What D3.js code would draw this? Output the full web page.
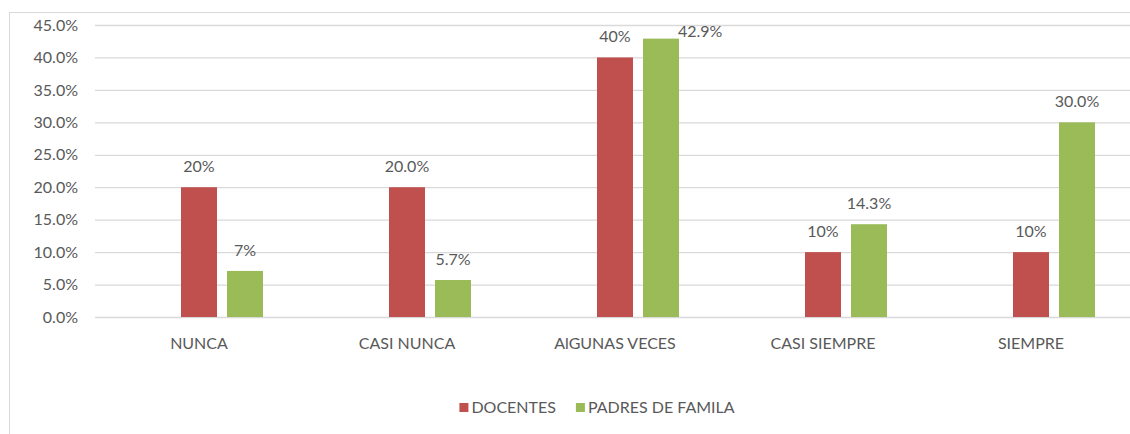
<!DOCTYPE html>
<html>
<head>
<meta charset="utf-8">
<script src="https://cdn.jsdelivr.net/npm/d3@7"></script>
<style>
  html, body { margin: 0; padding: 0; background: #fff; }
  svg { display: block; }
  text { font-family: Lato, "Open Sans", "Liberation Sans", sans-serif; fill: #595959; }
</style>
</head>
<body>
<svg id="chart" width="1130" height="434"></svg>
<script>
const categories = ["NUNCA", "CASI NUNCA", "AlGUNAS VECES", "CASI SIEMPRE", "SIEMPRE"];
const seriesNames = ["DOCENTES", "PADRES DE FAMILA"];
const docentes = [0.20, 0.20, 0.40, 0.10, 0.10];
const padres = [0.071, 0.057, 0.429, 0.143, 0.30];
const docentesLabels = ["20%", "20.0%", "40%", "10%", "10%"];
const padresLabels = ["7%", "5.7%", "42.9%", "14.3%", "30.0%"];
const yTicks = [0, 0.05, 0.10, 0.15, 0.20, 0.25, 0.30, 0.35, 0.40, 0.45];
const colors = ["#C0504D", "#9BBB59"];

const svg = d3.select("#chart");
const W = 1130, H = 434;
const plot = { left: 95, right: 1135, top: 25, bottom: 317 };
const FS = "16px";

// chart frame
svg.append("rect").attr("x", 9.5).attr("y", 12.5).attr("width", 1200).attr("height", 500)
  .attr("fill", "none").attr("stroke", "#d9d9d9").attr("stroke-width", 1);

const x0 = d3.scaleBand().domain(categories).range([plot.left, plot.right]).padding(0);
// three slots per category (first slot is empty in the original chart layout)
const x1 = d3.scaleBand().domain(["_"].concat(seriesNames)).range([-64, 64]).paddingInner(10 / 46).paddingOuter(0);
const y = d3.scaleLinear().domain([0, 0.45]).range([plot.bottom, plot.top]);

// gridlines
const yAxis = d3.axisLeft(y).tickValues(yTicks).tickFormat(d3.format(".1%"))
  .tickSize(-(W - plot.left)).tickPadding(17);
const gy = svg.append("g").attr("transform", `translate(${plot.left},0)`).call(yAxis);
gy.select(".domain").remove();
gy.selectAll(".tick line").attr("stroke", "#d9d9d9").attr("stroke-width", 1.3);
gy.selectAll(".tick text").style("font-size", FS).attr("fill", "#595959");

// category axis labels
const xAxis = d3.axisBottom(x0).tickSize(0).tickPadding(21);
const gx = svg.append("g").attr("transform", `translate(0,${plot.bottom})`).call(xAxis);
gx.select(".domain").remove();
gx.selectAll(".tick text").style("font-size", FS).attr("fill", "#595959");

const series = [
  { name: seriesNames[0], values: docentes, labels: docentesLabels, color: colors[0] },
  { name: seriesNames[1], values: padres, labels: padresLabels, color: colors[1] }
];

const bw = x1.bandwidth();
series.forEach(s => {
  const g = svg.append("g");
  categories.forEach((c, i) => {
    const cx = x0(c) + x0.bandwidth() / 2 + x1(s.name);
    const v = s.values[i];
    g.append("rect")
      .attr("x", cx).attr("y", y(v))
      .attr("width", bw).attr("height", y(0) - y(v))
      .attr("fill", s.color);
    let ly = y(v) - 15;
    const t = g.append("text").style("font-size", FS).text(s.labels[i]);
    if (ly < 37) {
      t.attr("x", cx + bw - 1).attr("y", 37).attr("text-anchor", "start");
    } else {
      t.attr("x", cx + bw / 2).attr("y", ly).attr("text-anchor", "middle");
    }
  });
});

// legend (centred, measured)
const legend = svg.append("g");
const items = series.map(s => {
  const gi = legend.append("g");
  gi.append("rect").attr("x", 0).attr("y", 403).attr("width", 9).attr("height", 9).attr("fill", s.color);
  const t = gi.append("text").attr("x", 12).attr("y", 407.5).attr("dy", "0.35em")
    .style("font-size", FS).text(s.name);
  return { g: gi, w: 12 + t.node().getComputedTextLength() };
});
const gap = 20;
const total = d3.sum(items, d => d.w) + gap * (items.length - 1);
let lx = 597 - total / 2;
items.forEach(it => { it.g.attr("transform", `translate(${lx},0)`); lx += it.w + gap; });
</script>
</body>
</html>
